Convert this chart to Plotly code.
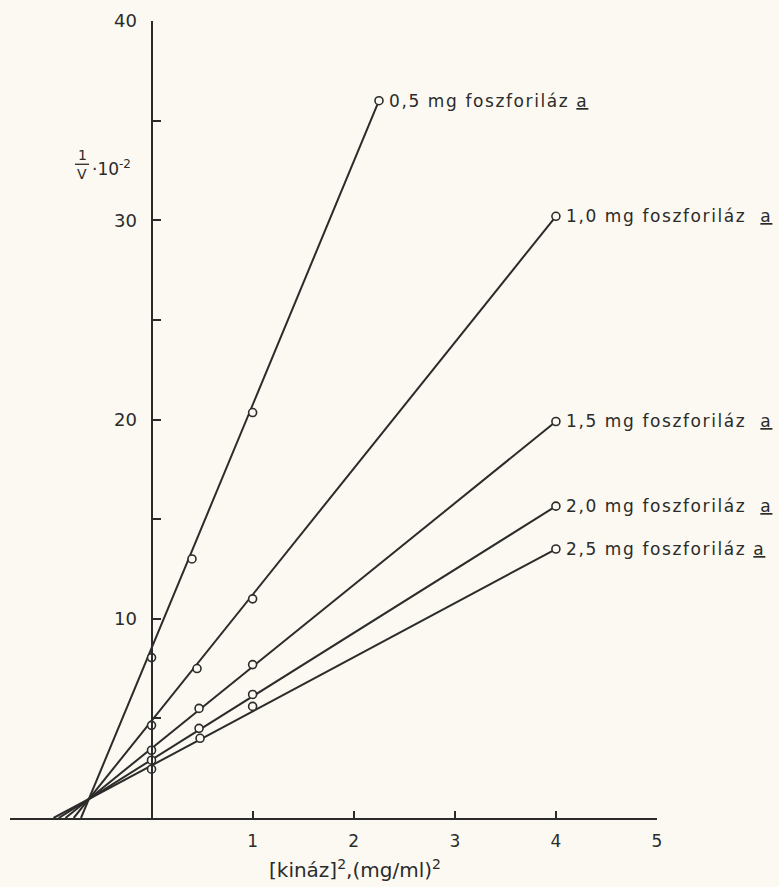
import plotly.graph_objects as go

# Kinase concentration squared, (mg/ml)^2, and 1/V * 10^-2 for each phosphorylase a amount
series_names = ["0,5", "1,0", "1,5", "2,0", "2,5"]
label_gaps = [" ", "  ", "  ", "  ", " "]
kinase_sq = [
    [0.0, 0.40, 1.0, 2.25],
    [0.0, 0.45, 1.0, 4.0],
    [0.0, 0.47, 1.0, 4.0],
    [0.0, 0.47, 1.0, 4.0],
    [0.0, 0.48, 1.0, 4.0],
]
inv_v = [
    [8.05, 13.0, 20.35, 36.0],
    [4.65, 7.5, 11.0, 30.2],
    [3.4, 5.5, 7.7, 19.9],
    [2.9, 4.5, 6.2, 15.65],
    [2.45, 4.0, 5.6, 13.5],
]
# common crossing point of the fitted lines
crossing = (-0.62, 0.95)

x_ticks = [1, 2, 3, 4, 5]
y_ticks = [5, 10, 15, 20, 25, 30, 35, 40]
y_ticktext = ["", "10", "", "20", "", "30", "", "40"]

INK = "#2b2b2b"
PAPER = "#fbf9f1"
FONT = "DejaVu Sans"

W, H = 779, 887
M_L, M_R, M_T, M_B = 10, 122, 17, 69
X_RANGE = [-1.4, 5.0]
Y_RANGE = [0, 40]


def px_x(px):
    return (px - M_L) / (W - M_L - M_R)


def px_y(py):
    return 1 - (py - M_T) / (H - M_T - M_B)


fig = go.Figure()

for name, gap, xs, ys in zip(series_names, label_gaps, kinase_sq, inv_v):
    xc, yc = crossing
    slope = (ys[-1] - yc) / (xs[-1] - xc)
    x0 = xc - yc / slope
    fig.add_trace(go.Scatter(
        x=[x0, xs[-1]], y=[0, ys[-1]], mode="lines",
        line=dict(color=INK, width=2), hoverinfo="skip", showlegend=False,
    ))
    fig.add_trace(go.Scatter(
        x=xs, y=ys, mode="markers",
        marker=dict(symbol="circle", size=8, color=PAPER,
                    line=dict(color=INK, width=1.6)),
        name=name + " mg", showlegend=False, cliponaxis=False,
    ))
    fig.add_annotation(
        x=xs[-1], y=ys[-1], xref="x", yref="y",
        text=(f'<span style="letter-spacing:1.6px">{name} mg foszforiláz'
              f'{gap}<u>a</u></span>'),
        showarrow=False, xanchor="left", yanchor="middle", xshift=8,
        font=dict(family=FONT, size=17, color=INK),
    )

# y-axis title: 1/V · 10^-2
fig.add_annotation(x=px_x(82), y=px_y(152), xref="paper", yref="paper",
                   text="1", showarrow=False, xanchor="center", yanchor="middle",
                   font=dict(family=FONT, size=14, color=INK))
fig.add_shape(type="line", xref="paper", yref="paper",
              x0=px_x(75), x1=px_x(89), y0=px_y(161), y1=px_y(161),
              line=dict(color=INK, width=1.3))
fig.add_annotation(x=px_x(82), y=px_y(171), xref="paper", yref="paper",
                   text="V", showarrow=False, xanchor="center", yanchor="middle",
                   font=dict(family=FONT, size=14, color=INK))
fig.add_annotation(x=px_x(90), y=px_y(165), xref="paper", yref="paper",
                   text="·10<sup>-2</sup>", showarrow=False, xanchor="left",
                   yanchor="middle", font=dict(family=FONT, size=17, color=INK))

# x-axis title
fig.add_annotation(x=px_x(355), y=px_y(869), xref="paper", yref="paper",
                   text="[kináz]<sup>2</sup>,(mg/ml)<sup>2</sup>", showarrow=False,
                   xanchor="center", yanchor="middle",
                   font=dict(family=FONT, size=20, color=INK))

fig.update_layout(
    width=W, height=H,
    margin=dict(l=M_L, r=M_R, t=M_T, b=M_B),
    paper_bgcolor=PAPER, plot_bgcolor=PAPER,
    showlegend=False,
    xaxis=dict(
        range=X_RANGE, showgrid=False, zeroline=False,
        showline=True, linecolor=INK, linewidth=2,
        ticks="inside", ticklen=7, tickwidth=2, tickcolor=INK,
        tickvals=x_ticks, ticktext=[str(v) for v in x_ticks],
        tickfont=dict(family=FONT, size=17, color=INK),
        ticklabelstandoff=7,
    ),
    yaxis=dict(
        range=Y_RANGE, showgrid=False, zeroline=False,
        anchor="free", position=(0 - X_RANGE[0]) / (X_RANGE[1] - X_RANGE[0]),
        showline=True, linecolor=INK, linewidth=2,
        ticks="inside", ticklen=8, tickwidth=2, tickcolor=INK,
        tickvals=y_ticks, ticktext=y_ticktext,
        tickfont=dict(family=FONT, size=18, color=INK),
        ticklabelstandoff=10,
    ),
)

fig.write_html("out.html")
